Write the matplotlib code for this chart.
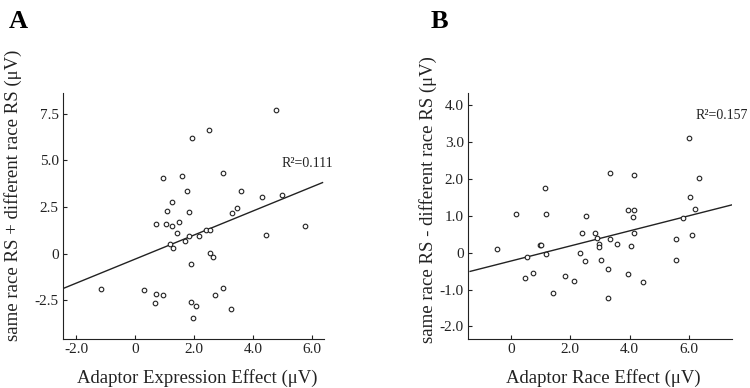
"""
Scatter plots with linear fits, panels A and B
"""

import matplotlib
matplotlib.use("Agg")
import matplotlib.pyplot as plt

plt.rcParams["font.family"] = ["Liberation Serif", "DejaVu Serif"]

# panel A: adaptor expression effect vs. summed RS
expr_x = [-1.16, 0.29, 0.69, 0.66, 0.93, 1.89, 2.06, 1.97, 2.97, 2.71, 3.25,
          1.90, 2.53, 2.64, 1.18, 1.28, 1.68, 1.43, 1.83, 2.15, 2.41, 2.53,
          0.69, 1.03, 1.23, 1.49, 1.07, 1.83, 1.24, 0.95, 1.59, 1.76, 1.92,
          2.51, 2.96, 3.29, 3.45, 3.57, 4.31, 4.43, 4.96, 4.76, 5.74]
expr_y = [-1.88, -1.97, -2.17, -2.65, -2.20, -2.61, -2.81, -3.44, -1.83, -2.22, -2.95,
          -0.57, 0.02, -0.21, 0.52, 0.32, 0.65, 1.10, 0.92, 0.95, 1.27, 1.27,
          1.58, 1.58, 1.47, 1.70, 2.26, 2.20, 2.74, 4.02, 4.16, 3.33, 6.18,
          6.61, 4.34, 2.17, 2.46, 3.35, 3.03, 1.01, 3.12, 7.67, 1.47]
fit_a_x = [-2.47, 6.35]
fit_a_y = [-1.89, 3.80]

# panel B: adaptor race effect vs. RS difference
race_x = [-0.47, 0.17, 0.49, 0.55, 0.74, 0.98, 1.00, 1.16, 1.20, 1.19, 1.41,
          1.83, 2.12, 2.32, 2.41, 2.51, 2.54, 2.82, 2.89, 2.98, 2.97, 3.03,
          3.35, 3.34, 3.28, 3.26, 3.56, 3.93, 4.14, 4.12, 4.14, 4.13, 4.04,
          3.94, 4.46, 5.56, 5.57, 5.79, 5.99, 6.04, 6.08, 6.18, 6.34]
race_y = [0.09, 1.04, -0.68, -0.12, -0.54, 0.21, 0.21, 1.76, 1.05, -0.04, -1.10,
          -0.63, -0.77, -0.02, 0.52, -0.23, 0.98, 0.52, 0.40, 0.24, 0.15, -0.21,
          0.37, 2.16, -0.45, -1.22, 0.24, 1.14, 1.14, 0.96, 2.10, 0.54, 0.19,
          -0.58, -0.81, 0.38, -0.21, 0.94, 3.11, 1.51, 0.48, 1.17, 2.02]
fit_b_x = [-1.37, 7.43]
fit_b_y = [-0.51, 1.29]

fig = plt.figure(figsize=(7.5, 3.88), dpi=100)
ax_a = fig.add_axes([0.084, 0.1263, 0.348, 0.634])
ax_b = fig.add_axes([0.624, 0.1263, 0.3516, 0.634])

panels = [
    (ax_a, expr_x, expr_y, fit_a_x, fit_a_y, (-2.45, 6.4), (-4.58, 8.6),
     [-2, 0, 2, 4, 6], ["-2.0", "0", "2.0", "4.0", "6.0"],
     [-2.5, 0, 2.5, 5.0, 7.5], ["-2.5", "0", "2.5", "5.0", "7.5"],
     "Adaptor Expression Effect (\u03bcV)",
     "same race RS + different race RS (\u03bcV)",
     "R\u00b2=0.111", (4.95, 4.82), -0.19, 0.585),
    (ax_b, race_x, race_y, fit_b_x, fit_b_y, (-1.44, 7.43), (-2.34, 4.32),
     [0, 2, 4, 6], ["0", "2.0", "4.0", "6.0"],
     [-2, -1, 0, 1, 2, 3, 4], ["-2.0", "-1.0", "0", "1.0", "2.0", "3.0", "4.0"],
     "Adaptor Race Effect (\u03bcV)",
     "same race RS - different race RS (\u03bcV)",
     "R\u00b2=0.157", (6.22, 3.72), -0.152, 0.565),
]

for (ax, x, y, fx, fy, xlim, ylim, xt, xtl, yt, ytl, xlab, ylab,
     rtext, rpos, ylx, yly) in panels:
    ax.plot(fx, fy, color="#222222", lw=1.0)
    ax.scatter(x, y, s=11, facecolors="white", edgecolors="#222222",
               linewidths=0.8, zorder=3)
    ax.set_xlim(*xlim)
    ax.set_ylim(*ylim)
    ax.set_xticks(xt)
    ax.set_xticklabels(xtl)
    ax.set_yticks(yt)
    ax.set_yticklabels(ytl)
    ax.spines["top"].set_visible(False)
    ax.spines["right"].set_visible(False)
    ax.spines["left"].set_color("#222222")
    ax.spines["bottom"].set_color("#222222")
    ax.tick_params(direction="in", length=3, width=0.8, labelsize=11,
                   colors="#222222", pad=3)
    ax.set_xlabel(xlab, fontsize=13.5, color="#222222", va="center")
    ax.xaxis.set_label_coords(0.515, -0.16)
    ax.set_ylabel(ylab, fontsize=13.5, color="#222222", va="center")
    ax.yaxis.set_label_coords(ylx, yly)
    ax.text(rpos[0], rpos[1], rtext, fontsize=10, va="center", ha="left",
            color="#222222")

fig.text(0.024, 0.945, "A", fontsize=19, fontweight="bold", va="center", ha="center")
fig.text(0.586, 0.945, "B", fontsize=19, fontweight="bold", va="center", ha="center")

fig.savefig("out.png", dpi=100)
